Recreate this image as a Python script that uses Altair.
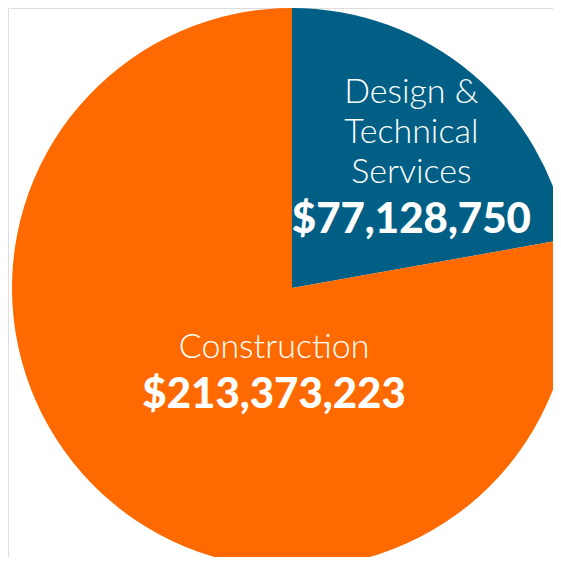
import altair as alt
import pandas as pd

# Data
categories = ["Design & Technical Services", "Construction"]
display_names = ["Design &\nTechnical\nServices", "Construction"]
amount_labels = ["$77,128,750", "$213,373,223"]
# slice shares (percent of circle) as drawn in the picture
shares = [22.2, 77.8]
colors = ["#015F86", "#FF6A00"]

df = pd.DataFrame({
    "idx": list(range(len(categories))),
    "category": categories,
    "name": display_names,
    "amount": amount_labels,
    "share": shares,
})

base = alt.Chart(df).encode(
    theta=alt.Theta("share:Q", stack=True),
    order=alt.Order("idx:O"),
    x=alt.value(284),
    y=alt.value(280),
)

pie = base.mark_arc(outerRadius=280).encode(
    color=alt.Color("category:N", scale=alt.Scale(domain=categories, range=colors), legend=None)
)

FONT = "Lato"

def label_layer(field, which, radius, dx, dy, size, weight, line_height=40):
    return (
        base.transform_calculate(
            lbl=f"datum.idx == {which} ? datum.{field} : ''"
        )
        .mark_text(
            radius=radius, dx=dx, dy=dy, font=FONT, fontSize=size, fontWeight=weight,
            color="white", align="center", baseline="alphabetic",
            lineBreak="\n", lineHeight=line_height,
        )
        .encode(text="lbl:N")
    )

blue_name = label_layer("name", 0, 150, 23, -70, 34, 300)
blue_amt = label_layer("amount", 0, 150, 23, 60, 42, 900)
orange_name = label_layer("name", 1, 100, 46.3, -6.6, 34, 300)
orange_amt = label_layer("amount", 1, 100, 46.3, 43.4, 42, 900)

chart = (
    alt.layer(pie, blue_name, blue_amt, orange_name, orange_amt)
    .properties(width=545, height=549, padding=0, autosize=alt.AutoSizeParams(type="none"))
    .configure_view(stroke="transparent", strokeWidth=0)
    .configure(background="white")
)

chart.save("out.html", embed_options={"renderer": "svg", "actions": False})
